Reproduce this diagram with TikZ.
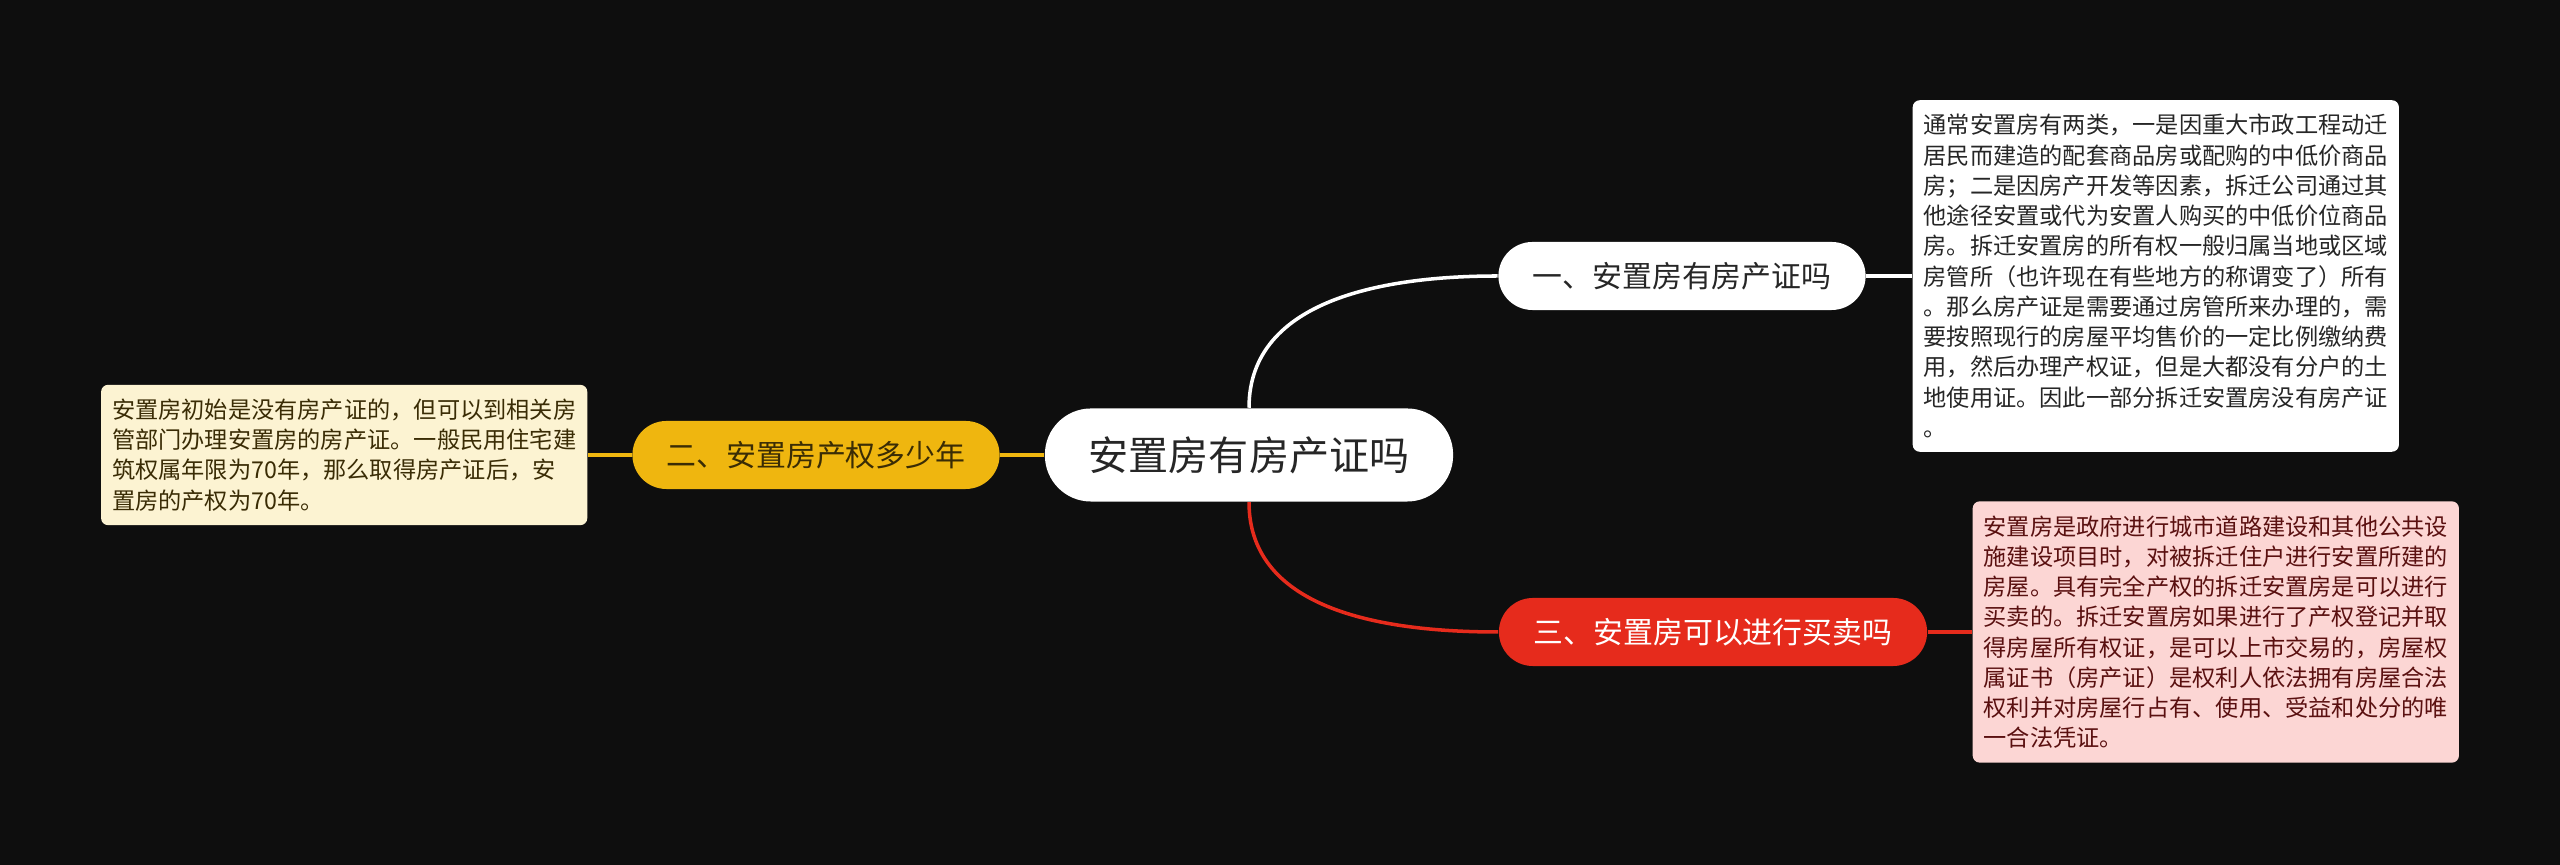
\documentclass[tikz,border=0pt]{standalone}
\usepackage{fontspec}
\setmainfont{Noto Sans CJK SC}
\usetikzlibrary{positioning}

\definecolor{bgdark}{HTML}{0E0E0E}
\definecolor{topicyellow}{HTML}{EFB60F}
\definecolor{topicred}{HTML}{E62B1C}
\definecolor{notepink}{HTML}{FCD6D4}
\definecolor{notecream}{HTML}{FCF3D2}
\definecolor{textred}{HTML}{5A1010}
\definecolor{textbrown}{HTML}{3A2C05}

\tikzset{
  rootnode/.style={fill=white, text=black!85, rounded corners=0.46cm,
    minimum width=4.08cm, minimum height=0.93cm, inner sep=0pt,
    font=\fontsize{11.4}{13}\selectfont},
  topicnode/.style={rounded corners=0.34cm, minimum height=0.68cm,
    inner sep=0pt, font=\fontsize{8.5}{10}\selectfont},
  notebox/.style={rounded corners=0.07cm, align=left, inner xsep=0.11cm,
    inner ysep=0.14cm, font=\fontsize{6.6}{8.6}\selectfont},
  branch/.style={line width=1pt}
}

\begin{document}
\begin{tikzpicture}[x=0.01cm, y=-0.01cm]

  % background and page size
  \fill[bgdark] (0,0) rectangle (2560,865);
  \useasboundingbox (0,0) rectangle (2560,865);

  % the central topic
  \node[rootnode] (root) at (1249,455) {安置房有房产证吗};

  % three sub-topics
  \node[topicnode, fill=white, text=black!85, minimum width=3.67cm] (one) at (1682,276) {一、安置房有房产证吗};
  \node[topicnode, fill=topicyellow, text=textbrown, minimum width=3.67cm] (two) at (816,455) {二、安置房产权多少年};
  \node[topicnode, fill=topicred, text=white, minimum width=4.28cm] (three) at (1713,632) {三、安置房可以进行买卖吗};

  % notes
  \node[notebox, fill=white, text=black!85, anchor=west] (onenote) at (1912,276) {通常安置房有两类，一是因重大市政工程动迁\\居民而建造的配套商品房或配购的中低价商品\\房；二是因房产开发等因素，拆迁公司通过其\\他途径安置或代为安置人购买的中低价位商品\\房。拆迁安置房的所有权一般归属当地或区域\\房管所（也许现在有些地方的称谓变了）所有\\。那么房产证是需要通过房管所来办理的，需\\要按照现行的房屋平均售价的一定比例缴纳费\\用，然后办理产权证，但是大都没有分户的土\\地使用证。因此一部分拆迁安置房没有房产证\\。};
  \node[notebox, fill=notecream, text=textbrown, anchor=east] (twonote) at (588,455) {安置房初始是没有房产证的，但可以到相关房\\管部门办理安置房的房产证。一般民用住宅建\\筑权属年限为70年，那么取得房产证后，安\\置房的产权为70年。};
  \node[notebox, fill=notepink, text=textred, anchor=west] (threenote) at (1972,632) {安置房是政府进行城市道路建设和其他公共设\\施建设项目时，对被拆迁住户进行安置所建的\\房屋。具有完全产权的拆迁安置房是可以进行\\买卖的。拆迁安置房如果进行了产权登记并取\\得房屋所有权证，是可以上市交易的，房屋权\\属证书（房产证）是权利人依法拥有房屋合法\\权利并对房屋行占有、使用、受益和处分的唯\\一合法凭证。};

  % connectors
  \draw[branch, white] (root.north) to[out=90, in=180] (one.west);
  \draw[branch, topicred] (root.south) to[out=-90, in=180] (three.west);
  \draw[branch, topicyellow] (root.west) -- (two.east);
  \draw[branch, white] (one.east) -- (onenote.west);
  \draw[branch, topicred] (three.east) -- (threenote.west);
  \draw[branch, topicyellow] (two.west) -- (twonote.east);

\end{tikzpicture}
\end{document}
